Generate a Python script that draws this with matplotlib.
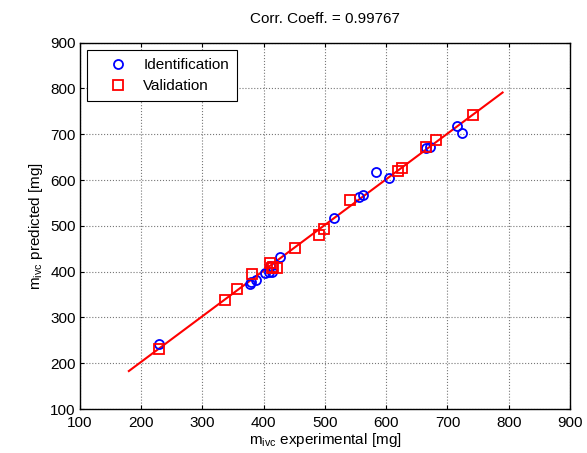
import numpy as np
import matplotlib
matplotlib.use("Agg")
import matplotlib.pyplot as plt

# identification set (experimental, predicted) in mg
ident_exp = [230, 378, 380, 387, 403, 408, 413, 411, 427, 515, 555, 562, 584, 604, 665, 672, 716, 723]
ident_pred = [242, 372, 378, 381, 397, 400, 400, 412, 432, 517, 562, 567, 617, 604, 670, 672, 718, 702]

# validation set
valid_exp = [230, 337, 357, 381, 411, 416, 421, 414, 452, 490, 498, 541, 619, 626, 665, 682, 742]
valid_pred = [231, 338, 362, 395, 418, 411, 407, 408, 451, 480, 493, 557, 620, 626, 672, 688, 742]

# fitted line end points
fit_exp = [180, 790]
fit_pred = [183, 791]

ticks = [100, 200, 300, 400, 500, 600, 700, 800, 900]
title = "Corr. Coeff. = 0.99767"

plt.rcParams["font.family"] = ["Liberation Sans", "DejaVu Sans"]
plt.rcParams["mathtext.default"] = "regular"
plt.rcParams["font.size"] = 11

fig = plt.figure(figsize=(5.87, 4.53), dpi=100)
ax = fig.add_axes([0.136, 0.097, 0.835, 0.809])

ax.plot(ident_exp, ident_pred, "o", color="blue", markerfacecolor="none",
        markersize=6.5, markeredgewidth=1.3, label="Identification", zorder=3)
ax.plot(valid_exp, valid_pred, "s", color="red", markerfacecolor="none",
        markersize=6.5, markeredgewidth=1.3, label="Validation", zorder=3)
ax.plot(fit_exp, fit_pred, "-", color="red", linewidth=1.5, zorder=2)

ax.set_xlim(100, 900)
ax.set_ylim(100, 900)
ax.set_xticks(ticks)
ax.set_yticks(ticks)
ax.grid(True, color="#777777", linestyle=":", linewidth=0.8)
ax.tick_params(direction="in", top=True, right=True, length=3)
ax.tick_params(axis="x", pad=5)
ax.tick_params(axis="y", pad=3)
for s in ax.spines.values():
    s.set_linewidth(1.0)

ax.set_title(title, fontsize=11, pad=14)
ax.set_xlabel("m$_{ivc}$ experimental [mg]", labelpad=1)
ax.set_ylabel("m$_{ivc}$ predicted [mg]", labelpad=4)

leg = ax.legend(loc="upper left", fancybox=False, framealpha=1, edgecolor="black",
                borderpad=0.5, handlelength=3.0, handletextpad=0.15,
                borderaxespad=0.5, fontsize=11)
leg.get_frame().set_linewidth(0.8)

fig.savefig("out.png", dpi=100)
